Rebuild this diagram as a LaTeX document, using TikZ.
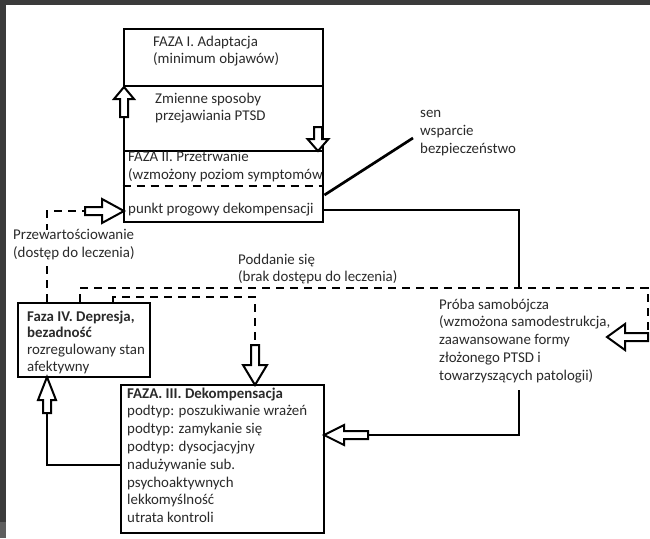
\documentclass[tikz,border=0pt]{standalone}
\usepackage{fontspec}
\setmainfont{Carlito}
\usetikzlibrary{fit}
\definecolor{framecol}{HTML}{3B3B3B}
\definecolor{stripcol}{HTML}{5E5E5E}
\definecolor{txtcol}{HTML}{2A2A2A}
\newcommand\fnt{\fontsize{14.9}{17.8}\selectfont}
\newcommand\fntb{\fontsize{14.9}{16.8}\selectfont}
\newcommand\harrow[5]{\draw[harrowst, shift={(#1)}, rotate=#2] (0,0) -- (-#4,#5) -- (-#4,4) -- (-#3,4) -- (-#3,-4) -- (-#4,-4) -- (-#4,-#5) -- cycle;}
\begin{document}
\begin{tikzpicture}[x=1pt,y=-1pt,
  boxst/.style={draw, line width=2.9pt, inner sep=0pt},
  conn/.style={draw, line width=2.7pt},
  dsh/.style={draw, line width=2.9pt, dash pattern=on 8pt off 6pt},
  harrowst/.style={draw, fill=white, line width=2pt, line join=miter},
  txt/.style={anchor=north west, inner sep=0pt, align=left, font=\fnt, text=txtcol, execute at begin node=\strut},
  txtb/.style={txt, font=\fntb}]
\useasboundingbox (0,0) rectangle (650,538);
\fill[white] (0,0) rectangle (650,538);
\fill[framecol] (0,0) rectangle (650,5);
\fill[framecol] (0,0) rectangle (6,538);
\fill[stripcol] (0,522) rectangle (6,538);

% boxes
\node[boxst, fit={(124,29) (323,86)}] (f1) {};
\node[boxst, fit={(124,86) (323,151)}] (fz) {};
\node[boxst, fit={(124,151) (323,222)}] (f2) {};
\draw[dsh] (f2.west |- 0,186) -- (f2.east |- 0,186);
\node[boxst, fit={(18,303) (150,377)}] (f4) {};
\node[boxst, fit={(121,385) (324,533)}] (f3) {};

% texts
\node[txt] (t1) at (153,35.5) {FAZA I. Adaptacja\\(minimum objawów)};
\node[txt] (tz) at (155,92.5) {Zmienne sposoby\\przejawiania PTSD};
\begin{scope}
\clip (124,151) rectangle (321.5,185);
\node[txt] (t2) at (128,151.5) {FAZA II. Przetrwanie\\(wzmożony poziom symptomów)};
\end{scope}
\node[txt] (t2b) at (128,200.5) {punkt progowy dekompensacji};
\node[txt] (ts) at (420,110.5) {sen\\wsparcie\\bezpieczeństwo};
\node[txt] (td) at (238,253.5) {Poddanie się\\(brak dostępu do leczenia)};
\node[txt] (tr) at (439,298.5) {Próba samobójcza\\(wzmożona samodestrukcja,\\zaawansowane formy\\złożonego PTSD i\\towarzyszących patologii)};
\node[txtb] (t4) at (27,310.5) {\textbf{Faza IV. Depresja,}\\\textbf{bezadność}\\rozregulowany stan\\afektywny};
\node[txt] (t3) at (127,387.5) {\textbf{FAZA. III. Dekompensacja}\\podtyp: poszukiwanie wrażeń\\podtyp: zamykanie się\\podtyp: dysocjacyjny\\nadużywanie sub.\\psychoaktywnych\\lekkomyślność\\utrata kontroli};

% connectors
\coordinate (c1) at (413,138);
\draw[conn] (f2.east |- 0,195) -- (c1);
\coordinate (k1) at (519,210);
\coordinate (k2) at (519,288);
\draw[conn] (f2.east |- 0,210) -- (k1) -- (k2);

\draw[dsh] (f4.north -| 80,0) -- (80,288) -- (648,288) -- (648,337);
\harrow{607,337}{180}{41}{18}{13}

\draw[dsh] (f4.north -| 113,0) -- (113,297) -- (255,297) -- (255,345);
\harrow{255,385}{-90}{40}{20}{12}

\draw[dsh] (f4.north -| 47,0) -- (47,211) -- (85,211);
\harrow{124,211}{0}{39}{22}{12}

\draw[conn] (519,390) -- (519,435) -- (368,435);
\harrow{324,435}{180}{44}{20}{10}

\draw[conn] (f3.west |- 0,465) -- (47,465) -- (47,413);
\harrow{47,377}{90}{36}{23}{9}

\harrow{124,87}{90}{30}{12}{10}
\harrow{318,151}{-90}{24}{12}{10.5}

% label over the dashed line
\node[txt, fill=white] (tp) at (13,229.5) {Przewartościowanie\\(dostęp do leczenia)};
\end{tikzpicture}
\end{document}
